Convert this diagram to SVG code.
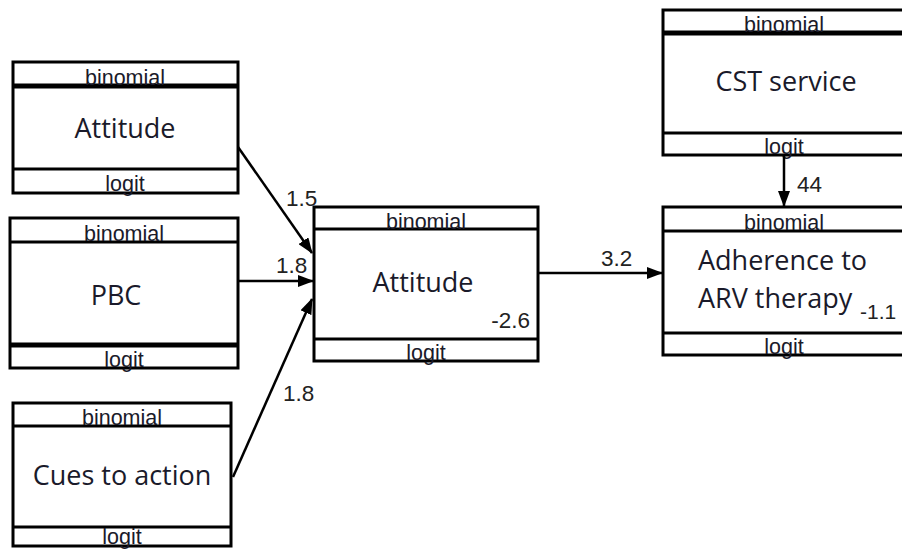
<svg xmlns="http://www.w3.org/2000/svg" width="902" height="549" viewBox="0 0 902 549">
<defs>
<style>
.box{fill:#fff;stroke:#000;stroke-width:3}
.div{stroke:#000;stroke-width:3}
.thick{stroke:#000;stroke-width:5}
.small{font-family:"Liberation Sans",Arial,sans-serif;font-size:21.5px;fill:#1a1a2a;text-anchor:middle}
.main{font-family:"Open Sans","Noto Sans",sans-serif;font-size:27px;fill:#1a1a2a;text-anchor:middle}
.left{text-anchor:start}
.num{font-family:"Liberation Sans",Arial,sans-serif;font-size:22.5px;fill:#222}
.conn{stroke:#000;stroke-width:2.5;fill:none}
</style>
<marker id="arr" viewBox="0 0 16 12" refX="15" refY="6" markerWidth="16" markerHeight="12" markerUnits="userSpaceOnUse" orient="auto">
<path d="M0,0 L16,6 L0,12 Z" fill="#000"/>
</marker>
</defs>

<g id="node-attitude-left">
<rect class="box" x="13" y="62" width="225" height="131"/>
<line class="thick" x1="13" y1="86" x2="238" y2="86"/>
<line class="div" x1="13" y1="169" x2="238" y2="169"/>
<text class="small" x="125" y="85">binomial</text>
<text class="main" x="125" y="138">Attitude</text>
<text class="small" x="125" y="191">logit</text>
</g>

<g id="node-pbc">
<rect class="box" x="10" y="218" width="228" height="150"/>
<line class="div" x1="10" y1="242" x2="238" y2="242"/>
<line class="thick" x1="10" y1="345" x2="238" y2="345"/>
<text class="small" x="124" y="241">binomial</text>
<text class="main" x="116" y="305">PBC</text>
<text class="small" x="124" y="367">logit</text>
</g>

<g id="node-cues">
<rect class="box" x="13" y="403" width="218" height="143"/>
<line class="div" x1="13" y1="426" x2="231" y2="426"/>
<line class="div" x1="13" y1="527" x2="231" y2="527"/>
<text class="small" x="122" y="425">binomial</text>
<text class="main" x="122" y="485">Cues to action</text>
<text class="small" x="122" y="544">logit</text>
</g>

<g id="node-attitude-center">
<rect class="box" x="314" y="207" width="224" height="154"/>
<line class="div" x1="314" y1="229" x2="538" y2="229"/>
<line class="div" x1="314" y1="339" x2="538" y2="339"/>
<text class="small" x="426" y="229">binomial</text>
<text class="main" x="423" y="292">Attitude</text>
<text class="num" x="530" y="328" text-anchor="end">-2.6</text>
<text class="small" x="426" y="360">logit</text>
</g>

<g id="node-cst">
<rect class="box" x="663" y="10" width="243" height="145"/>
<line class="thick" x1="663" y1="33" x2="906" y2="33"/>
<line class="div" x1="663" y1="133" x2="906" y2="133"/>
<text class="small" x="784" y="32">binomial</text>
<text class="main" x="786" y="91">CST service</text>
<text class="small" x="784" y="154">logit</text>
</g>

<g id="node-adherence">
<rect class="box" x="663" y="207" width="243" height="148"/>
<line class="div" x1="663" y1="231" x2="906" y2="231"/>
<line class="div" x1="663" y1="333" x2="906" y2="333"/>
<text class="small" x="784" y="230">binomial</text>
<text class="main left" x="698" y="270">Adherence to</text>
<text class="main left" x="698" y="308">ARV therapy</text>
<text class="num" x="860" y="319" style="font-size:21px">-1.1</text>
<text class="small" x="784" y="354">logit</text>
</g>

<g id="connectors">
<line class="conn" x1="238" y1="147" x2="312" y2="253" marker-end="url(#arr)"/>
<line class="conn" x1="238" y1="281" x2="313" y2="281" marker-end="url(#arr)"/>
<line class="conn" x1="233" y1="477" x2="312" y2="299" marker-end="url(#arr)"/>
<line class="conn" x1="538" y1="273" x2="662" y2="273" marker-end="url(#arr)"/>
<line class="conn" x1="784" y1="155" x2="784" y2="206" marker-end="url(#arr)"/>
<text class="num" x="286" y="206">1.5</text>
<text class="num" x="276" y="273">1.8</text>
<text class="num" x="283" y="401">1.8</text>
<text class="num" x="601" y="266">3.2</text>
<text class="num" x="797" y="192">44</text>
</g>
</svg>
